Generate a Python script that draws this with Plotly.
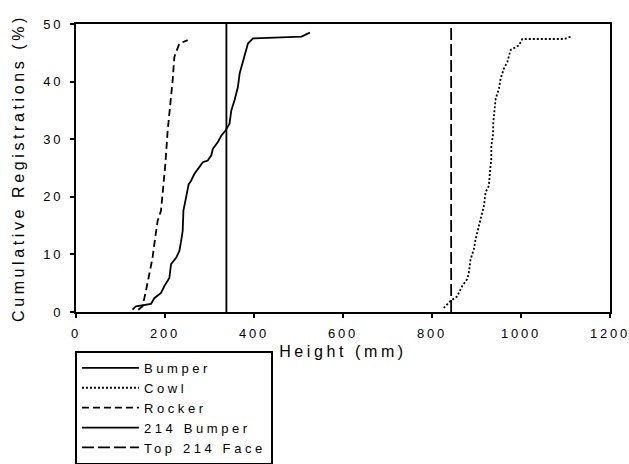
import plotly.graph_objects as go

# Bumper cumulative curve
bumper_x = [127, 134.7, 168.5, 176, 191, 198.5, 209.8, 213.6, 225, 232.3, 236.2, 239.8, 241.4,
            247.5, 253.3, 258.7, 266.2, 277.5, 285, 296, 304, 307.5, 318.8, 326.4, 336, 345,
            349, 356.4, 363.9, 367.7, 373.8, 379, 386.4, 397.7, 506.9, 525.6]
bumper_y = [0.4, 1.0, 1.4, 2.4, 3.3, 4.5, 5.9, 8.3, 9.4, 10.6, 12.3, 14.1, 17.6,
            19.9, 22.2, 22.8, 24.0, 25.2, 26.0, 26.3, 27.2, 28.3, 29.5, 30.6, 31.5, 32.7,
            35.0, 36.8, 39.1, 41.4, 43.2, 44.9, 46.6, 47.5, 47.8, 48.5]

# Cowl cumulative curve
cowl_x = [826.3, 841.4, 856.5, 867.8, 879, 882.7, 886.5, 894, 897.8, 905.3, 910.6, 916.6, 920.4,
          927.8, 930.1, 933.3, 933.3, 936.9, 937.8, 940.7, 943, 950.5, 954.2, 961.7, 969.3,
          976.7, 995.5, 1003, 1097, 1112]
cowl_y = [0.7, 1.9, 2.7, 4.5, 5.7, 6.8, 9.1, 10.9, 12.6, 14.9, 16.4, 18.4, 20.8,
          21.9, 24.2, 26.6, 28.9, 30.6, 33.0, 35.3, 37.0, 38.8, 40.5, 42.3, 43.4,
          45.5, 46.3, 47.4, 47.4, 47.8]

# Rocker cumulative curve
rocker_x = [140, 149.6, 157, 164.7, 172, 176, 179.8, 183.4, 191, 194.7, 198.5, 200.8, 206,
            209.8, 213.6, 217.2, 221, 232.3, 251]
rocker_y = [0.4, 1.0, 3.6, 6.5, 9.4, 11.8, 14.1, 15.8, 17.6, 20.5, 23.4, 25.7, 31.5,
            34.4, 37.3, 40.2, 44.3, 46.6, 47.2]

# Reference heights (vertical lines)
bumper214_x = [338, 338]
bumper214_y = [0, 50]
top214_x = [843, 843]
top214_y = [0, 50]

fig = go.Figure()
lw = 1.8
fig.add_trace(go.Scatter(x=bumper_x, y=bumper_y, mode="lines", name="Bumper",
                         line=dict(color="black", width=lw, dash="solid")))
fig.add_trace(go.Scatter(x=cowl_x, y=cowl_y, mode="lines", name="Cowl",
                         line=dict(color="black", width=lw, dash="2px,2px")))
fig.add_trace(go.Scatter(x=rocker_x, y=rocker_y, mode="lines", name="Rocker",
                         line=dict(color="black", width=lw, dash="7px,4px")))
fig.add_trace(go.Scatter(x=bumper214_x, y=bumper214_y, mode="lines", name="214 Bumper",
                         line=dict(color="black", width=lw, dash="solid")))
fig.add_trace(go.Scatter(x=top214_x, y=top214_y, mode="lines", name="Top 214 Face",
                         line=dict(color="black", width=lw, dash="12px,4px")))

fig.update_layout(
    width=629, height=464,
    margin=dict(l=76, r=19, t=24, b=152, autoexpand=False),
    paper_bgcolor="white", plot_bgcolor="white",
    font=dict(family="Liberation Sans, Arial", size=13, color="black"),
    showlegend=True,
    legend=dict(x=-0.002, y=-0.135, xanchor="left", yanchor="top",
                bordercolor="black", borderwidth=2, bgcolor="white",
                itemwidth=57, tracegroupgap=0),
    xaxis=dict(range=[0, 1200], dtick=200, tick0=0, showgrid=False, zeroline=False,
               showline=True, linecolor="black", linewidth=2, mirror=True,
               ticks="outside", ticklen=4, tickwidth=1.5, tickcolor="black",
               ticklabeloverflow="allow", automargin=True, ticklabelstandoff=4,
               title=dict(text="Height (mm)", standoff=6)),
    yaxis=dict(range=[0, 50], dtick=10, tick0=0, showgrid=False, zeroline=False,
               showline=True, linecolor="black", linewidth=2, mirror=True,
               ticks="outside", ticklen=4, tickwidth=1.5, tickcolor="black",
               automargin=True, ticklabelstandoff=4,
               title=dict(text="Cumulative Registrations (%)", standoff=15)),
)

# Wide letter spacing as in the original (Excel-style export); re-measure text afterwards
post = """
var st = document.createElement('style');
st.innerHTML = 'body { margin: 0; } svg text { letter-spacing: 3.6px; } .xtick text, .ytick text { letter-spacing: 2.8px; }';
document.head.appendChild(st);
var gd = document.getElementById('{plot_id}');
Plotly.relayout(gd, {'font.family': 'Liberation Sans, Arial, sans-serif'});
"""

fig.write_html("out.html", post_script=post, config={"displayModeBar": False})
